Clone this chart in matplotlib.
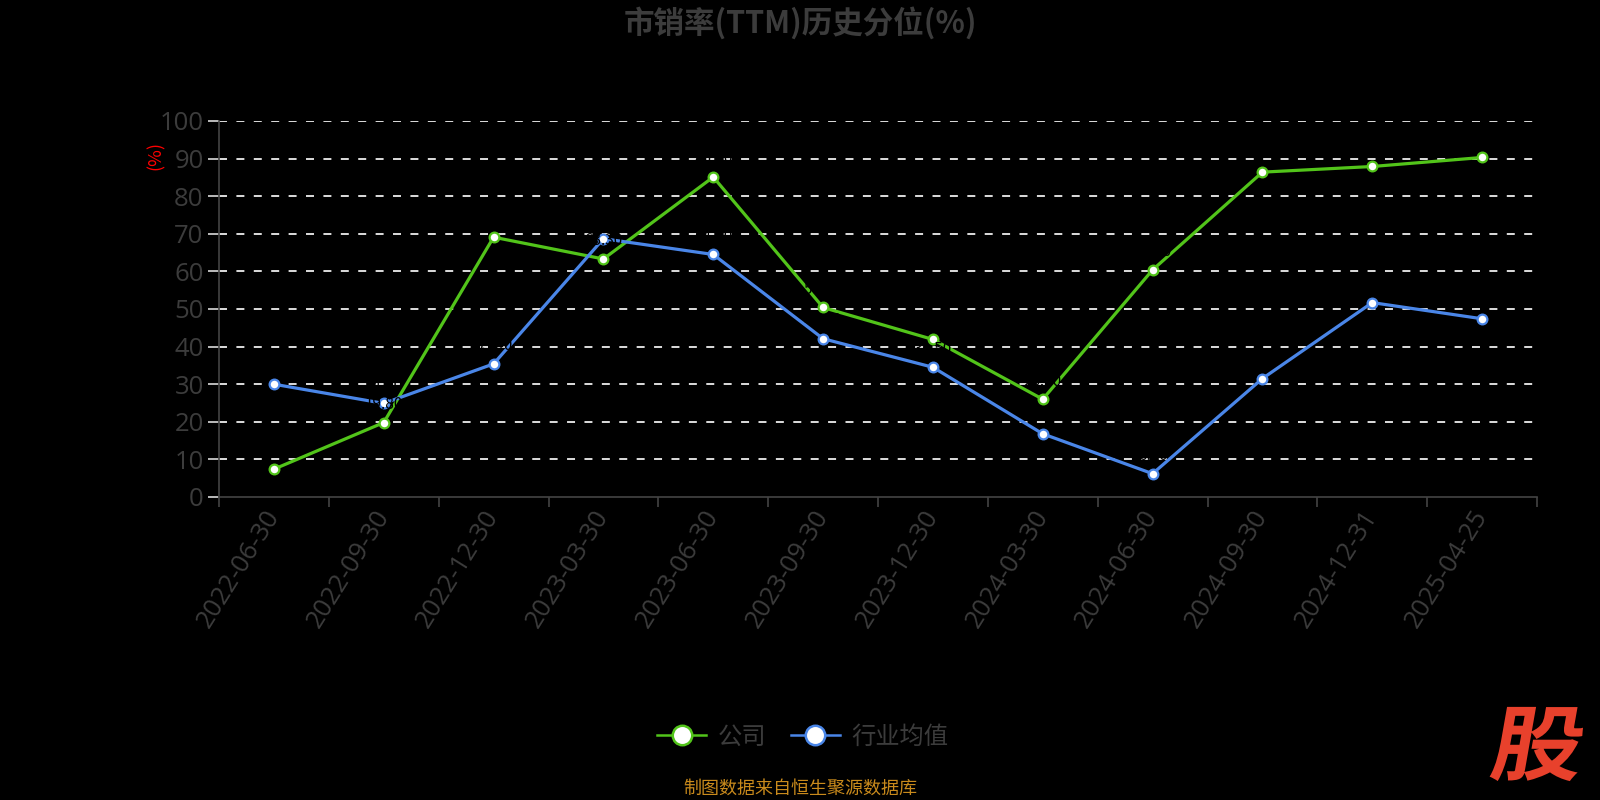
import matplotlib
matplotlib.use("Agg")
import matplotlib.pyplot as plt
from matplotlib.font_manager import FontProperties
from matplotlib.textpath import TextPath
from matplotlib.patches import PathPatch
from matplotlib.transforms import Affine2D, IdentityTransform
from matplotlib.ticker import FixedLocator

plt.rcParams['font.family'] = ['Noto Sans CJK SC', 'DejaVu Sans']
latin = ['Open Sans', 'Noto Sans CJK SC']

# ---- data ----
dates = ["2022-06-30", "2022-09-30", "2022-12-30", "2023-03-30", "2023-06-30",
         "2023-09-30", "2023-12-30", "2024-03-30", "2024-06-30", "2024-09-30",
         "2024-12-31", "2025-04-25"]
company = [7.4, 19.8, 69.1, 63.3, 85.1, 50.4, 41.9, 26.0, 60.4, 86.4, 87.9, 90.3]
industry = [30.0, 24.9, 35.4, 68.7, 64.5, 42.1, 34.5, 16.8, 6.2, 31.5, 51.7, 47.4]
yticks = [0, 10, 20, 30, 40, 50, 60, 70, 80, 90, 100]
series_names = ["公司", "行业均值"]

title = "市销率(TTM)历史分位(%)"
source = "制图数据来自恒生聚源数据库"

green = "#52c41a"
blue = "#4a86e8"
gray_text = "#3c3c3c"
axis_gray = "#444444"

fig = plt.figure(figsize=(16, 8), dpi=100, facecolor="black")
ax = fig.add_axes([219 / 1600, 1 - 497 / 800, (1537 - 219) / 1600, (497 - 121) / 800])
ax.set_facecolor("black")

x = list(range(len(dates)))
ax.set_xlim(-0.5, len(dates) - 0.5)
ax.set_ylim(0, 100)

# gridlines
for v in yticks[1:]:
    ax.axhline(v, color="#dddddd", lw=1.4, linestyle=(0, (4.1, 4.85)), zorder=1)

ax.plot(x, company, color=green, lw=2.3, marker="o", markersize=7,
        markerfacecolor="white", markeredgecolor=green, markeredgewidth=1.6,
        zorder=3, label=series_names[0])
ax.plot(x, industry, color=blue, lw=2.3, marker="o", markersize=7,
        markerfacecolor="white", markeredgecolor=blue, markeredgewidth=1.6,
        zorder=3, label=series_names[1])

# (near-invisible) black value labels
for xi, v in zip(x, company):
    ax.annotate(f"{v:.2f}", (xi, v), xytext=(0, 7), textcoords="offset points",
                ha="center", va="bottom", fontsize=11, color="black", zorder=4)
for xi, v in zip(x, industry):
    ax.annotate(f"{v:.2f}", (xi, v), xytext=(0, 7), textcoords="offset points",
                ha="center", va="bottom", fontsize=11, color="black", zorder=4)

# spines
for s in ["top", "right"]:
    ax.spines[s].set_visible(False)
ax.spines["left"].set_color(axis_gray)
ax.spines["bottom"].set_color(axis_gray)
ax.spines["left"].set_linewidth(1.2)
ax.spines["bottom"].set_linewidth(1.2)

# x ticks: major at boundaries, minor labels at centers
ax.xaxis.set_major_locator(FixedLocator([i - 0.5 for i in range(len(dates) + 1)]))
ax.xaxis.set_minor_locator(FixedLocator(x))
ax.set_xticklabels([], minor=False)
ax.set_xticklabels(dates, minor=True, rotation=58, ha="right", va="center",
                   rotation_mode="anchor", fontsize=18.5, color=gray_text,
                   family=latin)
ax.tick_params(axis="x", which="major", length=7, width=1.2, color=axis_gray, direction="out")
ax.tick_params(axis="x", which="minor", length=0, pad=11)

ax.set_yticks(yticks)
ax.set_yticklabels([str(v) for v in yticks], fontsize=18.5, color=gray_text,
                   family=latin)
ax.tick_params(axis="y", length=8, width=1.4, color="#bbbbbb", pad=3)

# (%) label
fig.text(156 / 1600, 1 - 155 / 800, "(%)", color="red", fontsize=13,
         rotation=90, ha="center", va="center")

# title
fig.text(0.5, 1 - 23 / 800, title, ha="center", va="center", fontsize=22,
         fontweight="bold", color=gray_text)

# legend
leg = fig.legend(loc="center", bbox_to_anchor=(803 / 1600, 1 - 737 / 800), ncol=2,
                 frameon=False, fontsize=17.5, handlelength=2.0, handletextpad=0.5,
                 columnspacing=1.0, markerscale=2.0)
for t in leg.get_texts():
    t.set_color(gray_text)
for h in leg.legend_handles:
    h.set_markeredgewidth(1.8)
    h.set_linewidth(1.8)

# source
fig.text(0.5, 1 - 789 / 800, source, ha="center", va="center", fontsize=13,
         color="#c98a1c")

# logo
fp = FontProperties(family="Noto Sans CJK SC", weight="black")
tp = TextPath((0, 0), "股", size=82, prop=fp)
bb = tp.get_extents()
cx, cy = (bb.x0 + bb.x1) / 2, (bb.y0 + bb.y1) / 2
tr = (Affine2D().translate(-cx, -cy).scale(1.12, 1.0).skew_deg(10, 0)
      .translate(1539, 800 - 744))
patch = PathPatch(tr.transform_path(tp), facecolor="#e8412c", edgecolor="none",
                  transform=IdentityTransform())
fig.patches.append(patch)

fig.savefig("out.png", dpi=100, facecolor="black")
